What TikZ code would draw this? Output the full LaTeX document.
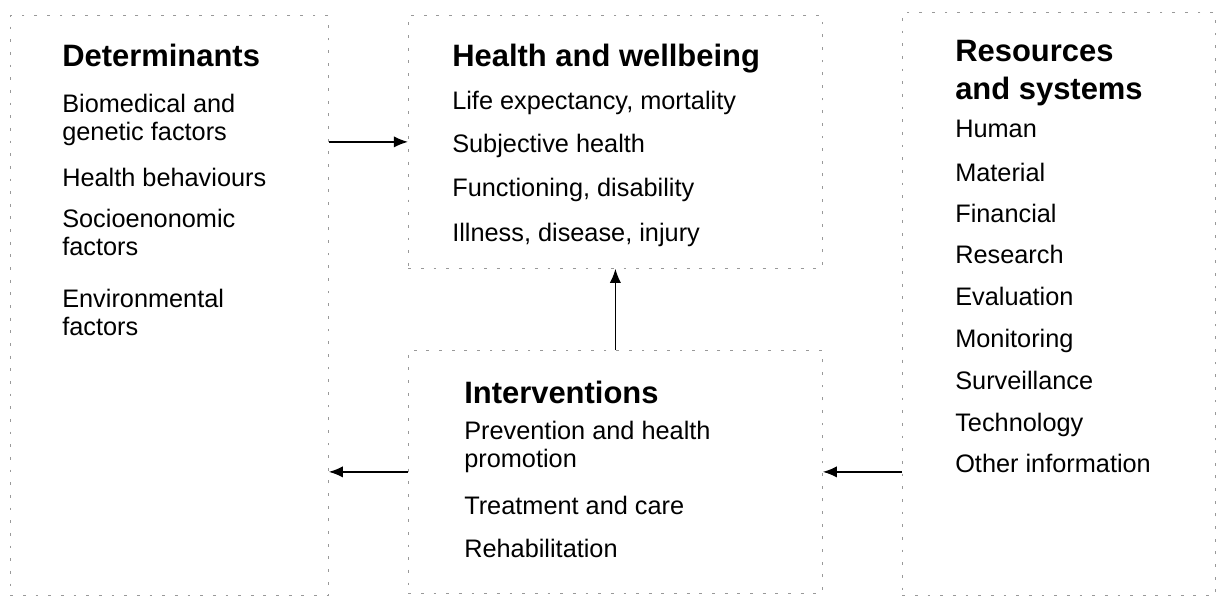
\documentclass[tikz,border=0pt]{standalone}
\usepackage{fontspec}
\setmainfont{Liberation Sans}
\usetikzlibrary{arrows.meta}

\begin{document}
\begin{tikzpicture}[x=0.025cm,y=-0.025cm,
    box/.style={draw=black!40,dash pattern=on 2pt off 7pt,line width=0.5pt,
      anchor=north west,inner sep=0pt},
    head/.style={anchor=base west,inner sep=0pt,align=left,
      font=\fontsize{22}{27}\selectfont\bfseries},
    item/.style={anchor=base west,inner sep=0pt,align=left,
      font=\fontsize{18}{19.9}\selectfont},
    link/.style={-{Latex[length=10pt,width=8pt]},line width=1.1pt}]
  \useasboundingbox (0,0) rectangle (1221,598);
  % frames
  \node[box,minimum width=7.95cm,minimum height=14.5cm] (det) at (10,15) {};
  \node[box,minimum width=10.35cm,minimum height=6.325cm] (hw) at (408,15) {};
  \node[box,minimum width=10.35cm,minimum height=6.075cm] (int) at (408,350) {};
  \node[box,minimum width=7.825cm,minimum height=14.575cm] (res) at (902,12) {};
  % determinants (base = last line)
  \node[head] (dethd) at (62,66) {Determinants};
  \node[item] (det1) at (62,140) {Biomedical and\\genetic factors};
  \node[item] (det2) at (62,186) {Health behaviours};
  \node[item] (det3) at (62,255) {Socioenonomic\\factors};
  \node[item] (det4) at (62,335) {Environmental\\factors};
  % health and wellbeing
  \node[head] (hwhd) at (452,66) {Health and wellbeing};
  \node[item] (hw1) at (452,109) {Life expectancy, mortality};
  \node[item] (hw2) at (452,152) {Subjective health};
  \node[item] (hw3) at (452,196) {Functioning, disability};
  \node[item] (hw4) at (452,241) {Illness, disease, injury};
  % interventions
  \node[head] (inthd) at (464,403) {Interventions};
  \node[item] (int1) at (464,467) {Prevention and health\\promotion};
  \node[item] (int2) at (464,514) {Treatment and care};
  \node[item] (int3) at (464,557) {Rehabilitation};
  % resources and systems
  \node[head] (reshd) at (955,99) {Resources\\and systems};
  \node[item] (res1) at (955,137) {Human};
  \node[item] (res2) at (955,181) {Material};
  \node[item] (res3) at (955,222) {Financial};
  \node[item] (res4) at (955,263) {Research};
  \node[item] (res5) at (955,305) {Evaluation};
  \node[item] (res6) at (955,347) {Monitoring};
  \node[item] (res7) at (955,389) {Surveillance};
  \node[item] (res8) at (955,431) {Technology};
  \node[item] (res9) at (955,472) {Other information};
  % arrows
  \draw[link] (det.east |- hw.west) -- (hw.west);
  \draw[link] (int.north) -- (hw.south);
  \draw[link] (int.west) -- (det.east |- int.west);
  \draw[link] (res.west |- int.east) -- (int.east);
\end{tikzpicture}
\end{document}
